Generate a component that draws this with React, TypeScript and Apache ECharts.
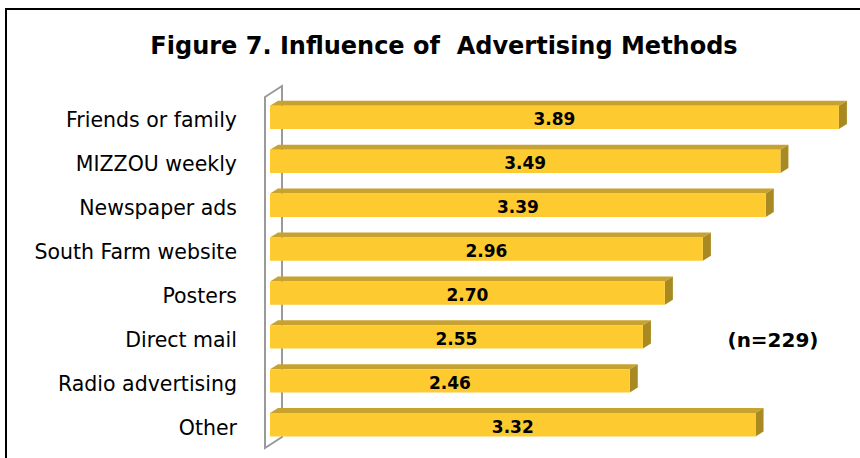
import React, { useEffect, useRef } from "react";
import * as echarts from "echarts";

const categories = [
  "Friends or family",
  "MIZZOU weekly",
  "Newspaper ads",
  "South Farm website",
  "Posters",
  "Direct mail",
  "Radio advertising",
  "Other",
];
const values = [3.89, 3.49, 3.39, 2.96, 2.7, 2.55, 2.46, 3.32];
const titleText = "Figure 7. Influence of  Advertising Methods";
const noteText = "(n=229)";

const FRONT = "#FDCA30";
const TOP = "#C8A22E";
const SIDE = "#A98A22";
const FONT = "'DejaVu Sans', sans-serif";

export default function App() {
  const ref = useRef<HTMLDivElement>(null);
  useEffect(() => {
    if (!ref.current) return;
    const chart = echarts.init(ref.current, null, { renderer: "svg" });
    const dx = 8;
    const dy = 5;
    chart.setOption({
      animation: false,
      backgroundColor: "#ffffff",
      grid: { left: 270, right: 5, top: 95.5, bottom: 11.3 },
      xAxis: { type: "value", min: 0, max: 4, show: false },
      yAxis: {
        type: "category",
        data: categories,
        inverse: true,
        axisLine: { show: false },
        axisTick: { show: false },
        axisLabel: {
          color: "#000",
          fontSize: 20.5,
          fontFamily: FONT,
          margin: 33,
          formatter: (v: string) => "{a|" + v + "}",
          rich: {
            a: {
              color: "#000",
              fontSize: 20.5,
              fontFamily: FONT,
              padding: [6, 0, 0, 0],
            },
          },
        },
      },
      graphic: [
        {
          type: "rect",
          shape: { x: 6, y: 9, width: 900, height: 500 },
          style: { fill: "none", stroke: "#000", lineWidth: 2 },
          z: 10,
        },
        {
          type: "text",
          x: 444,
          y: 46,
          style: {
            text: titleText,
            fontSize: 24,
            fontWeight: "bold",
            fontFamily: FONT,
            fill: "#000",
            align: "center",
            verticalAlign: "middle",
          },
        },
        {
          type: "text",
          x: 773,
          y: 340,
          style: {
            text: noteText,
            fontSize: 20,
            fontWeight: "bold",
            fontFamily: FONT,
            fill: "#000",
            align: "center",
            verticalAlign: "middle",
          },
        },
        {
          type: "polygon",
          shape: {
            points: [
              [265, 97],
              [282, 86],
              [282, 437],
              [265, 448],
            ],
          },
          style: { fill: "none", stroke: "#9a9a9a", lineWidth: 2 },
          z: 0,
        },
      ],
      series: [
        {
          type: "custom",
          z: 5,
          data: values.map((v, i) => [v, i]),
          encode: { x: 0, y: 1 },
          renderItem: (params: any, api: any) => {
            const v = api.value(0);
            const idx = api.value(1);
            const s = api.coord([0, idx]);
            const e = api.coord([v, idx]);
            const h = api.size([0, 1])[1] * 0.53;
            const y0 = e[1] - h / 2;
            const y1 = e[1] + h / 2;
            const x0 = s[0];
            const x1 = e[0];
            return {
              type: "group",
              children: [
                {
                  type: "polygon",
                  shape: { points: [[x0, y0], [x1, y0], [x1 + dx, y0 - dy], [x0 + dx, y0 - dy]] },
                  style: { fill: TOP },
                },
                {
                  type: "polygon",
                  shape: { points: [[x1, y0], [x1 + dx, y0 - dy], [x1 + dx, y1 - dy], [x1, y1]] },
                  style: { fill: SIDE },
                },
                {
                  type: "rect",
                  shape: { x: x0, y: y0, width: x1 - x0, height: h },
                  style: { fill: FRONT },
                },
                {
                  type: "text",
                  x: (x0 + x1) / 2,
                  y: e[1] + 2,
                  style: {
                    text: v.toFixed(2),
                    fontSize: 17,
                    fontWeight: "bold",
                    fontFamily: FONT,
                    fill: "#000",
                    align: "center",
                    verticalAlign: "middle",
                  },
                },
              ],
            };
          },
        },
      ],
    });
    return () => chart.dispose();
  }, []);
  return (
    <div
      ref={ref}
      style={{ position: "fixed", left: 0, top: 0, width: 860, height: 458 }}
    />
  );
}
